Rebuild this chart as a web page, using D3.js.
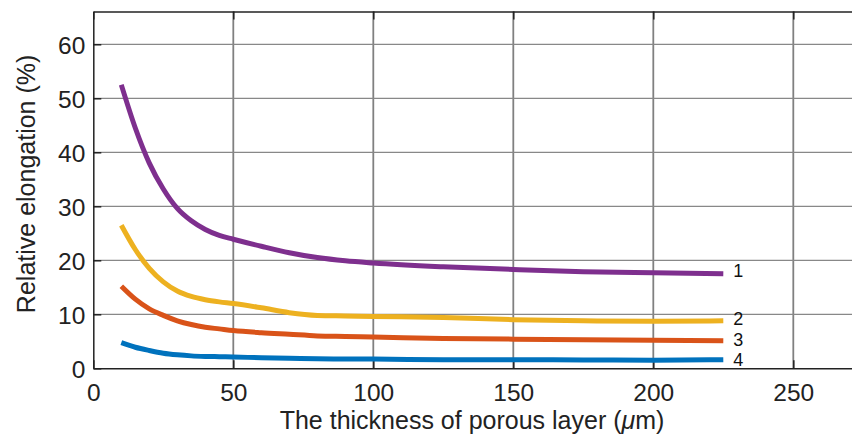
<!DOCTYPE html>
<html><head><meta charset="utf-8">
<script src="https://cdn.jsdelivr.net/npm/d3@7"></script>
<style>body{margin:0;background:#fff}svg{display:block}</style>
</head><body>
<svg id="c" width="852" height="439"></svg>
<script>
const thickness = [10,15,20,25,30,35,40,45,50,60,70,80,90,100,125,150,175,200,225];
const curve1 = [52.5,44.5,38,33.2,29.6,27.3,25.7,24.6,23.9,22.6,21.4,20.5,19.9,19.5,18.8,18.3,17.9,17.7,17.5];
const curve2 = [26.5,22,18.5,16,14.3,13.3,12.7,12.3,12.0,11.2,10.3,9.8,9.7,9.6,9.4,9.0,8.8,8.7,8.8];
const curve3 = [15.2,12.8,11,9.8,8.8,8.1,7.6,7.3,7.0,6.6,6.3,6.0,5.9,5.8,5.5,5.4,5.3,5.2,5.1];
const curve4 = [4.75,3.9,3.3,2.8,2.5,2.3,2.2,2.15,2.1,1.95,1.85,1.75,1.7,1.7,1.6,1.6,1.55,1.5,1.6];
const seriesLabels = ["1","2","3","4"];
const xTicks = [0,50,100,150,200,250];
const yTicks = [0,10,20,30,40,50,60];
const colors = ["#7E2F8E","#EDB120","#D95319","#0072BD"];

const svg = d3.select("#c");
const L = 93.3, T = 11.5, B = 368.3;
const x = d3.scaleLinear().domain([0,272]).range([L, L + 2.8*272]);
const y = d3.scaleLinear().domain([0,66.07]).range([B, T]);
const font = "Liberation Sans, Arial, sans-serif";

// grid
svg.append("g").selectAll("line").data(xTicks.filter(d=>d>0)).join("line")
  .attr("x1",d=>x(d)).attr("x2",d=>x(d)).attr("y1",T).attr("y2",B)
  .attr("stroke","#808080").attr("stroke-width",1.8);
svg.append("g").selectAll("line").data(yTicks.filter(d=>d>0)).join("line")
  .attr("x1",L).attr("x2",852).attr("y1",d=>y(d)).attr("y2",d=>y(d))
  .attr("stroke","#888").attr("stroke-width",1.2);

// axes
const gx = svg.append("g").attr("transform",`translate(0,${B})`)
  .call(d3.axisBottom(x).tickValues(xTicks).tickSizeInner(-8).tickSizeOuter(0).tickPadding(15));
const gxt = svg.append("g").attr("transform",`translate(0,${T})`)
  .call(d3.axisTop(x).tickValues(xTicks).tickSizeInner(-8).tickSizeOuter(0).tickFormat(""));
const gy = svg.append("g").attr("transform",`translate(${L},0)`)
  .call(d3.axisLeft(y).tickValues(yTicks).tickSizeInner(-8).tickSizeOuter(0).tickPadding(8));
[gx,gxt,gy].forEach(g=>{
  g.select(".domain").attr("stroke","#222").attr("stroke-width",1.5);
  g.selectAll(".tick line").attr("stroke","#222").attr("stroke-width",1.5);
  g.selectAll(".tick text").attr("font-family",font).attr("font-size",24.5).attr("fill","#222");
});
gy.selectAll(".tick text").attr("dy","0.36em");

// lines
const data = [curve1,curve2,curve3,curve4];
const line = d3.line().x((d,i)=>x(thickness[i])).y(d=>y(d)).curve(d3.curveMonotoneX);
svg.append("g").selectAll("path").data(data).join("path")
  .attr("d",line).attr("fill","none").attr("stroke",(d,i)=>colors[i])
  .attr("stroke-width",5).attr("stroke-linejoin","round");

// series labels
svg.append("g").selectAll("text").data(data).join("text")
  .attr("x", x(thickness[thickness.length-1]) + 15)
  .attr("y", (d,i)=>y(d[d.length-1]) + [-3.5,-2.5,-1.5,-0.5][i])
  .attr("dy","0.36em").attr("text-anchor","middle")
  .attr("font-family",font).attr("font-size",18).attr("fill","#111")
  .text((d,i)=>seriesLabels[i]);

// axis titles
const xt = svg.append("text").attr("x",472).attr("y",429)
  .attr("text-anchor","middle").attr("font-family",font).attr("font-size",25).attr("fill","#222");
xt.append("tspan").text("The thickness of porous layer (");
xt.append("tspan").attr("font-style","italic").text("μ");
xt.append("tspan").text("m)");
svg.append("text").attr("transform",`translate(35,${(T+B)/2 - 6}) rotate(-90)`)
  .attr("text-anchor","middle").attr("font-family",font).attr("font-size",25).attr("fill","#222")
  .text("Relative elongation (%)");
</script>
</body></html>
